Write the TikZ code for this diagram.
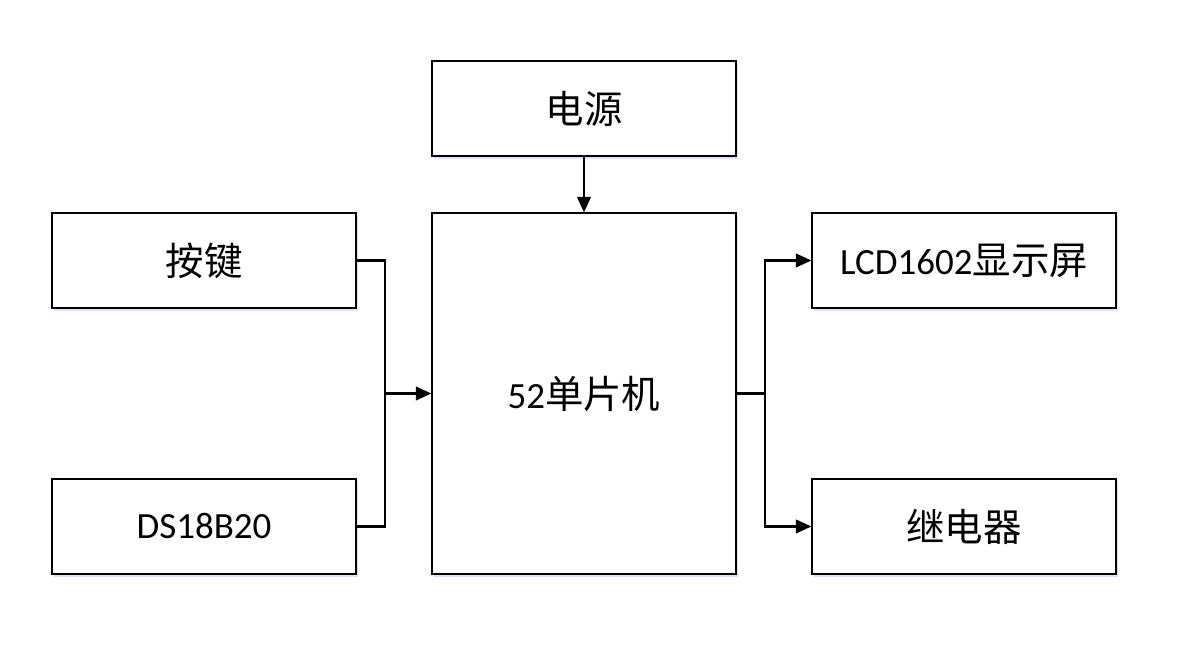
\documentclass[tikz,border=0pt]{standalone}
\usepackage{fontspec}
\setmainfont{Carlito}
\newfontfamily\cjk[Scale=1.04]{Noto Sans CJK SC}
\usetikzlibrary{arrows.meta,shadows}

\begin{document}
\begin{tikzpicture}[
    blk/.style={draw, line width=0.8pt, fill=white, minimum width=7.6cm,
      minimum height=2.375cm, font=\fontsize{26.3}{30}\selectfont,
      drop shadow={shadow xshift=0.06cm, shadow yshift=-0.08cm,
        fill=blue!25!white, opacity=0.5}},
    wire/.style={line width=1.9pt},
    arr/.style={wire, -{Triangle[length=11pt, width=9.5pt]}}
  ]
  \useasboundingbox (0,0) rectangle (29.55,16.65);

  % Power supply and MCU
  \node[blk] (power) at (14.6,13.9375) {{\cjk 电源}};
  \node[blk, minimum height=9.025cm] (mcu) at (14.6,6.8125) {52{\cjk 单片机}};

  % Inputs
  \node[blk] (key) at (5.1,10.1375) {{\cjk 按键}};
  \node[blk] (temp) at (5.1,3.4875) {DS18B20};

  % Outputs
  \node[blk] (lcd) at (24.1,10.1375) {LCD1602{\cjk 显示屏}};
  \node[blk] (relay) at (24.1,3.4875) {{\cjk 继电器}};

  % Bus joints
  \coordinate (lbus) at (9.625,6.8125);
  \coordinate (rbus) at (19.125,6.8125);

  % Connections
  \draw[arr] (power.south) -- (mcu.north);
  \draw[wire] (key.east) -| (lbus);
  \draw[wire] (temp.east) -| (lbus);
  \draw[arr] (lbus) -- (mcu.west);
  \draw[wire] (mcu.east) -- (rbus);
  \draw[arr] (rbus) |- (lcd.west);
  \draw[arr] (rbus) |- (relay.west);

\end{tikzpicture}
\end{document}
